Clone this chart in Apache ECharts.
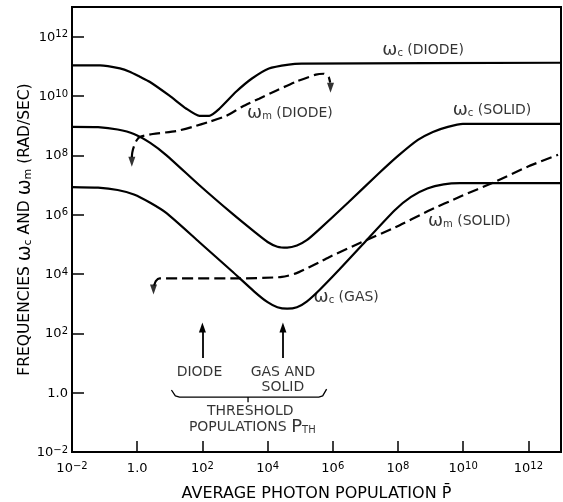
<!DOCTYPE html>
<html>
<head>
<meta charset="utf-8">
<script src="https://cdn.jsdelivr.net/npm/echarts@6/dist/echarts.min.js"></script>
<style>
html, body { margin: 0; padding: 0; background: #fff; }
#chart { width: 563px; height: 502px; }
</style>
</head>
<body>
<div id="chart"></div>
<script>
// all values are log10 exponents: x = log10(P), y = log10(omega)
const xTicks = [-2, 0, 2, 4, 6, 8, 10, 12];
const yTicks = [-2, 0, 2, 4, 6, 8, 10, 12];

const wcDiode = [[-2, 11.03], [-1.14, 11.03], [-0.53, 10.93], [-0.23, 10.82], [0.08, 10.65], [0.38, 10.48],
  [0.99, 10.01], [1.51, 9.57], [1.91, 9.33], [2.21, 9.33], [2.52, 9.57], [3.04, 10.15], [3.52, 10.59],
  [4.04, 10.93], [4.65, 11.06], [5.04, 11.09], [13, 11.12]];

const wcSolid = [[-2, 8.96], [-1.2, 8.95], [-0.6, 8.87], [-0.1, 8.72], [0.4, 8.42], [0.9, 8.0], [1.9, 7.0],
  [2.9, 6.05], [3.6, 5.42], [4.0, 5.08], [4.3, 4.92], [4.6, 4.89], [4.9, 4.96], [5.2, 5.14], [5.56, 5.48],
  [6.48, 6.42], [7.39, 7.37], [8.0, 7.98], [8.61, 8.52], [9.07, 8.79], [9.53, 8.96], [9.99, 9.06], [13, 9.06]];

const wcGas = [[-2, 6.93], [-1.2, 6.91], [-0.6, 6.83], [-0.1, 6.68], [0.4, 6.4], [0.9, 6.05], [1.9, 5.08],
  [2.9, 4.1], [3.6, 3.4], [4.0, 3.05], [4.3, 2.88], [4.6, 2.83], [4.9, 2.88], [5.2, 3.07], [5.6, 3.47],
  [6.2, 4.15], [6.9, 4.98], [7.9, 6.15], [8.4, 6.6], [8.9, 6.88], [9.4, 7.02], [9.9, 7.06], [13, 7.06]];

const wmDiode = [[-0.165, 7.94], [-0.15, 8.10], [-0.10, 8.30], [-0.02, 8.50], [0.08, 8.62], [0.48, 8.72],
  [1.21, 8.82], [1.70, 8.96], [2.21, 9.13], [2.73, 9.33], [3.22, 9.64], [3.74, 9.91], [4.26, 10.18],
  [4.87, 10.48], [5.48, 10.72], [5.72, 10.75], [5.87, 10.64], [5.92, 10.45]];

const wmSolid = [[0.52, 3.61], [0.57, 3.76], [0.69, 3.85], [3.13, 3.85], [4.44, 3.90], [4.87, 4.02],
  [5.26, 4.22], [5.57, 4.39], [5.87, 4.56], [6.88, 5.07], [7.91, 5.57], [8.92, 6.12], [9.93, 6.62],
  [10.96, 7.10], [11.96, 7.61], [12.91, 8.02]];

// arrow heads at the hooked ends of the dashed curves: [x, y, rotation]
const hookHeads = [[-0.165, 7.78, 180], [5.93, 10.28, 180], [0.50, 3.48, 180]];

// threshold arrows: [x, yFrom, yTo]
const thresholdArrows = [[2, 1.17, 2.2], [4.47, 1.17, 2.2]];

const brace = [[1.05, 0.09], [1.17, -0.11], [1.30, -0.15], [3.40, -0.15], [3.40, -0.32], [3.40, -0.15],
  [5.57, -0.15], [5.69, -0.11], [5.81, 0.12]];

// annotations: [x, y, text, align]
const notes = [
  [7.52, 11.54, '{w|ω}{sub|c} (DIODE)', 'left'],
  [3.37, 9.40, '{w|ω}{sub|m} (DIODE)', 'left'],
  [9.68, 9.53, '{w|ω}{sub|c} (SOLID)', 'left'],
  [8.92, 5.78, '{w|ω}{sub|m} (SOLID)', 'left'],
  [5.41, 3.21, '{w|ω}{sub|c} (GAS)', 'left'],
  [1.91, 0.70, 'DIODE', 'center'],
  [4.47, 0.70, 'GAS AND', 'center'],
  [4.47, 0.19, 'SOLID', 'center'],
  [3.47, -0.62, 'THRESHOLD', 'center'],
  [3.53, -1.17, 'POPULATIONS {big|P}{sub|TH}', 'center'],
];

const FONT = 'DejaVu Sans';

function powLabel(v) {
  if (v === 0) return '{n|1.0}';
  return '{b|10}{s|' + (v < 0 ? '−' + (-v) : v) + '}';
}
const powRich = {
  n: { fontSize: 13, fontFamily: FONT, color: '#000', lineHeight: 14, padding: [6, 0, 0, 0], verticalAlign: 'bottom' },
  b: { fontSize: 13, fontFamily: FONT, color: '#000', lineHeight: 14, verticalAlign: 'bottom' },
  s: { fontSize: 10, fontFamily: FONT, color: '#000', lineHeight: 14, padding: [0, 0, 6, 0], verticalAlign: 'top' },
};

const curve = (data, dashed) => ({
  type: 'line', data, symbol: 'none', smooth: 0.2, silent: true,
  lineStyle: { color: '#000', width: 2.2, type: dashed ? [11, 5] : 'solid' },
});

const chart = echarts.init(document.getElementById('chart'));
chart.setOption({
  backgroundColor: '#fff',
  animation: false,
  grid: { left: 72, right: 2, top: 7, bottom: 50, show: true, borderColor: '#000', borderWidth: 2, outerBoundsMode: 'none' },
  xAxis: {
    type: 'value', min: -2, max: 13, interval: 2,
    name: 'AVERAGE PHOTON POPULATION P\u0304', nameLocation: 'middle', nameGap: 34,
    nameTextStyle: { fontSize: 16, fontFamily: FONT, color: '#000' },
    axisLine: { onZero: false, lineStyle: { color: '#000', width: 2 } },
    axisTick: { inside: true, length: 11, customValues: xTicks, lineStyle: { color: '#000', width: 1.5 } },
    axisLabel: { customValues: xTicks, margin: 9, formatter: powLabel, rich: powRich },
    splitLine: { show: false },
  },
  yAxis: {
    type: 'value', min: -2, max: 13, interval: 2,
    name: 'FREQUENCIES {w|ω}{sub|c} AND {w|ω}{sub|m} (RAD/SEC)', nameLocation: 'middle', nameGap: 38,
    nameMoveOverlap: false,
    nameTextStyle: {
      fontSize: 15.5, fontFamily: FONT, color: '#000', lineHeight: 18,
      rich: {
        w: { fontSize: 19, fontFamily: FONT, color: '#000', lineHeight: 18 },
        sub: { fontSize: 11, fontFamily: FONT, color: '#000', lineHeight: 11, verticalAlign: 'bottom' },
      },
    },
    axisLine: { onZero: false, lineStyle: { color: '#000', width: 2 } },
    axisTick: { inside: true, length: 12, customValues: yTicks, lineStyle: { color: '#000', width: 1.5 } },
    axisLabel: { customValues: yTicks, margin: 4, formatter: powLabel, rich: powRich },
    splitLine: { show: false },
  },
  series: [
    curve(wcDiode, false),
    curve(wcSolid, false),
    curve(wcGas, false),
    curve(wmDiode, true),
    curve(wmSolid, true),
    {
      type: 'scatter', silent: true, symbol: 'triangle', symbolSize: [7, 10],
      itemStyle: { color: '#000' },
      data: hookHeads.map((h) => ({ value: [h[0], h[1]], symbolRotate: h[2] })),
    },
    {
      type: 'line', data: brace, symbol: 'none', silent: true,
      lineStyle: { color: '#000', width: 1.3 },
      markLine: {
        silent: true, symbol: ['none', 'triangle'], symbolSize: [7, 10],
        label: { show: false },
        lineStyle: { color: '#000', width: 1.8, type: 'solid' },
        data: thresholdArrows.map((a) => [{ coord: [a[0], a[1]] }, { coord: [a[0], a[2]] }]),
      },
    },
    {
      type: 'scatter', silent: true, symbolSize: 0,
      data: notes.map((n) => ({ value: [n[0], n[1]], name: n[2], label: { align: n[3] } })),
      label: {
        show: true, position: 'inside', formatter: (p) => p.name,
        fontSize: 14, fontFamily: FONT, color: '#000', textBorderWidth: 0, lineHeight: 16,
        rich: {
          w: { fontSize: 18, fontFamily: FONT, color: '#000', lineHeight: 16 },
          big: { fontSize: 18, fontFamily: FONT, color: '#000', lineHeight: 16 },
          sub: { fontSize: 10, fontFamily: FONT, color: '#000', lineHeight: 10, verticalAlign: 'bottom' },
        },
      },
    },
  ],
});
</script>
</body>
</html>
